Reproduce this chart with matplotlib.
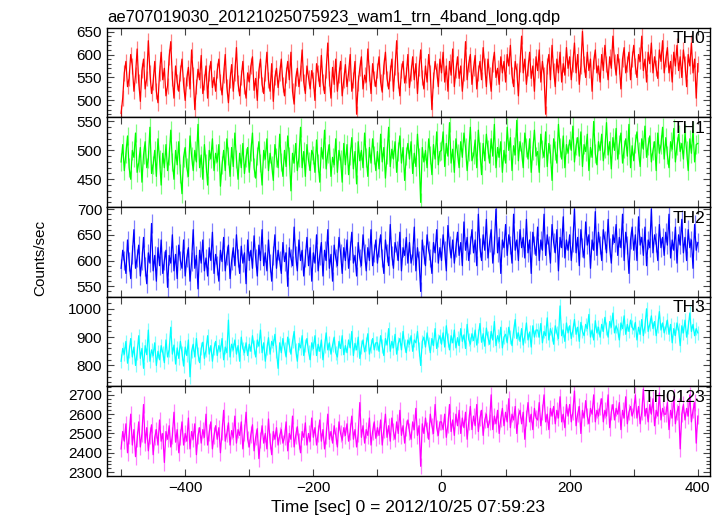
import numpy as np
import matplotlib
matplotlib.use('Agg')
import matplotlib.pyplot as plt
from matplotlib.ticker import MultipleLocator

plt.rcParams['font.family'] = ['Liberation Sans', 'DejaVu Sans']

# time grid, 2.5 s bins
time = np.arange(-500, 400.1, 2.5)

th0 = [472, 505, 560, 585, 530, 548, 600, 575, 520, 555, 612, 540, 498, 565, 590, 525, 548, 630, 560, 515,
       540, 585, 520, 495, 560, 605, 545, 570, 510, 532, 595, 628, 548, 505, 575, 540, 520, 560, 590, 535,
       500, 548, 572, 525, 610, 555, 480, 530, 568, 545, 598, 515, 540, 575, 505, 560, 585, 528, 550, 520,
       565, 590, 540, 512, 555, 600, 530, 495, 545, 578, 520, 560, 615, 538, 510, 550, 585, 530, 505, 560,
       540, 575, 595, 522, 548, 500, 565, 590, 535, 515, 560, 605, 545, 520, 580, 498, 550, 570, 528, 560,
       590, 535, 510, 555, 585, 545, 605, 520, 492, 548, 570, 530, 560, 610, 540, 515, 575, 550, 525, 565,
       545, 500, 580, 560, 530, 598, 540, 515, 565, 625, 548, 505, 572, 535, 590, 520, 555, 585, 510, 545,
       578, 530, 560, 600, 520, 545, 585, 470, 538, 570, 595, 525, 555, 540, 612, 560, 515, 580, 548, 530,
       565, 595, 540, 518, 575, 605, 548, 525, 560, 590, 520, 572, 630, 545, 510, 565, 585, 538, 555, 600,
       528, 560, 595, 545, 580, 515, 570, 610, 550, 525, 575, 540, 600, 560, 480, 545, 585, 565, 530, 590,
       560, 605, 540, 575, 520, 585, 555, 612, 530, 565, 595, 548, 575, 520, 560, 628, 545, 580, 600, 535,
       570, 598, 525, 560, 585, 545, 615, 575, 530, 590, 555, 520, 580, 605, 550, 570, 535, 595, 560, 585,
       540, 600, 575, 620, 555, 530, 585, 565, 510, 580, 640, 560, 590, 535, 570, 605, 548, 575, 520, 595,
       565, 610, 540, 585, 555, 470, 575, 600, 545, 620, 565, 530, 590, 560, 605, 540, 580, 555, 615, 570,
       595, 545, 580, 625, 560, 600, 535, 575, 650, 580, 550, 605, 565, 590, 520, 585, 610, 560, 575, 540,
       600, 565, 620, 580, 545, 595, 570, 640, 585, 555, 600, 575, 525, 590, 615, 560, 580, 605, 545, 590,
       620, 575, 550, 600, 585, 640, 565, 590, 540, 605, 580, 625, 560, 595, 570, 548, 610, 585, 630, 560,
       590, 615, 560, 585, 540, 605, 575, 620, 565, 595, 550, 610, 580, 530, 600, 575, 625, 560, 590, 505,
       580]

th1 = [480, 510, 465, 495, 525, 470, 450, 500, 488, 530, 462, 478, 505, 445, 492, 515, 470, 485, 540, 460,
       475, 500, 455, 520, 485, 440, 495, 470, 510, 465, 490, 535, 480, 450, 500, 475, 515, 460, 425, 488,
       505, 470, 455, 525, 490, 465, 500, 480, 545, 470, 492, 450, 510, 478, 440, 500, 485, 520, 465, 495,
       480, 510, 438, 475, 500, 465, 520, 490, 455, 505, 472, 530, 485, 450, 495, 470, 512, 460, 488, 505,
       462, 498, 530, 470, 452, 490, 515, 478, 440, 500, 485, 520, 465, 495, 475, 448, 510, 488, 470, 528,
       480, 455, 500, 472, 525, 490, 430, 495, 478, 512, 465, 488, 540, 470, 498, 455, 510, 482, 465, 500,
       492, 462, 518, 478, 445, 505, 485, 535, 468, 495, 510, 455, 488, 475, 520, 462, 500, 485, 445, 512,
       475, 510, 458, 490, 522, 468, 498, 442, 515, 482, 500, 470, 530, 488, 455, 505, 478, 520, 492, 465,
       498, 468, 528, 480, 505, 452, 492, 540, 472, 502, 485, 515, 462, 498, 525, 478, 505, 448, 490, 512,
       485, 515, 460, 495, 472, 528, 488, 410, 505, 480, 500, 470, 520, 492, 458, 510, 485, 532, 475, 498,
       500, 532, 472, 512, 490, 548, 478, 502, 462, 520, 495, 470, 515, 488, 530, 505, 465, 498, 540, 482,
       492, 518, 470, 535, 498, 458, 512, 482, 528, 502, 478, 520, 490, 545, 470, 505, 488, 515, 462, 500,
       478, 540, 500, 522, 465, 508, 492, 552, 482, 515, 498, 470, 530, 505, 485, 520, 462, 500, 535, 490,
       498, 462, 528, 502, 488, 532, 472, 512, 495, 448, 520, 500, 478, 545, 505, 485, 525, 470, 510, 495,
       518, 500, 542, 480, 508, 522, 490, 532, 472, 510, 498, 528, 465, 505, 488, 550, 495, 475, 515, 500,
       528, 482, 502, 548, 492, 515, 468, 522, 500, 538, 485, 510, 530, 478, 502, 520, 490, 545, 470, 508,
       482, 512, 532, 498, 472, 520, 502, 542, 488, 508, 525, 480, 500, 515, 465, 530, 495, 510, 540, 485,
       522, 492, 470, 515, 502, 538, 480, 508, 528, 498, 512, 485, 530, 500, 465, 520, 495, 535, 480, 510,
       512]

th2 = [585, 620, 600, 575, 640, 598, 565, 612, 660, 585, 605, 630, 570, 600, 645, 588, 555, 615, 595, 672,
       580, 610, 560, 625, 590, 640, 575, 600, 620, 548, 610, 595, 650, 580, 612, 565, 630, 600, 585, 640,
       570, 605, 625, 560, 598, 660, 585, 610, 545, 620, 595, 640, 580, 605, 570, 625, 600, 655, 575, 612,
       590, 560, 620, 598, 645, 580, 610, 630, 565, 600, 625, 590, 650, 605, 575, 628, 595, 615, 555, 640,
       600, 620, 585, 648, 605, 570, 630, 600, 660, 590, 615, 580, 640, 595, 560, 610, 650, 585, 620, 600,
       575, 635, 598, 615, 550, 625, 605, 590, 665, 610, 580, 640, 600, 620, 570, 605, 645, 590, 625, 560,
       615, 595, 650, 580, 610, 635, 570, 620, 600, 660, 585, 612, 560, 630, 605, 590, 645, 615, 575, 625,
       600, 640, 585, 620, 655, 595, 610, 570, 635, 605, 590, 650, 615, 580, 625, 600, 660, 590, 615, 640,
       595, 625, 650, 605, 575, 640, 615, 590, 670, 610, 585, 635, 620, 600, 655, 580, 625, 610, 645, 595,
       635, 595, 610, 665, 580, 625, 600, 540, 640, 612, 590, 650, 620, 605, 575, 635, 615, 660, 595, 625,
       600, 650, 620, 580, 668, 630, 605, 640, 595, 625, 655, 610, 635, 590, 675, 620, 645, 600, 630, 660,
       615, 640, 590, 690, 625, 600, 650, 620, 680, 605, 635, 660, 595, 630, 700, 615, 645, 575, 640, 625,
       670, 610, 650, 630, 595, 690, 620, 640, 600, 660, 625, 645, 605, 680, 615, 640, 575, 655, 630, 610,
       665, 600, 640, 620, 690, 610, 650, 630, 595, 670, 635, 615, 660, 580, 645, 625, 685, 605, 640, 620,
       650, 600, 635, 700, 615, 645, 590, 660, 625, 605, 675, 630, 650, 585, 640, 620, 695, 610, 655, 630,
       600, 660, 640, 615, 680, 625, 595, 650, 635, 670, 610, 645, 625, 690, 600, 655, 630, 575, 640, 665,
       620, 650, 600, 685, 630, 645, 610, 665, 590, 640, 625, 700, 615, 650, 635, 600, 670, 625, 645, 610,
       655, 630, 690, 605, 640, 620, 665, 595, 650, 630, 680, 615, 645, 600, 660, 625, 640, 585, 670, 620,
       635]

th3 = [815, 860, 840, 885, 808, 850, 895, 830, 865, 800, 845, 905, 825, 860, 790, 870, 838, 925, 815, 855,
       835, 880, 800, 850, 820, 870, 845, 810, 890, 830, 855, 935, 840, 872, 805, 862, 825, 885, 845, 798,
       865, 835, 890, 760, 850, 875, 830, 895, 840, 810, 860, 882, 825, 855, 905, 840, 870, 815, 860, 885,
       835, 870, 850, 895, 820, 865, 845, 960, 830, 875, 855, 890, 840, 870, 815, 900, 860, 845, 880, 835,
       875, 850, 905, 865, 830, 890, 868, 925, 845, 880, 815, 860, 898, 840, 885, 870, 910, 850, 790, 880,
       845, 895, 860, 830, 900, 872, 840, 885, 920, 855, 815, 878, 862, 905, 835, 870, 895, 848, 820, 880,
       860, 905, 835, 875, 850, 890, 820, 868, 915, 855, 880, 840, 872, 900, 845, 830, 885, 860, 905, 838,
       870, 845, 890, 862, 920, 835, 878, 855, 900, 825, 865, 890, 848, 875, 912, 840, 868, 895, 855, 880,
       880, 850, 905, 868, 835, 895, 872, 930, 850, 885, 862, 910, 840, 878, 895, 855, 920, 870, 845, 890,
       875, 905, 850, 890, 880, 920, 858, 800, 885, 900, 865, 915, 878, 845, 895, 870, 930, 860, 888, 905,
       875, 915, 865, 940, 890, 855, 905, 880, 925, 862, 898, 870, 930, 885, 908, 860, 945, 892, 875, 912,
       888, 925, 872, 905, 948, 882, 912, 868, 932, 898, 875, 920, 890, 955, 870, 905, 885, 935, 862, 900,
       910, 880, 935, 900, 870, 922, 962, 895, 915, 885, 930, 872, 905, 950, 890, 918, 865, 940, 900, 925,
       925, 900, 948, 880, 920, 905, 968, 890, 930, 910, 875, 940, 915, 895, 1010, 905, 925, 885, 950, 915,
       940, 895, 925, 962, 910, 935, 885, 952, 920, 905, 945, 930, 980, 900, 925, 890, 958, 915, 935, 900,
       945, 920, 970, 930, 900, 955, 935, 985, 915, 940, 925, 890, 950, 930, 975, 910, 945, 920, 960, 935,
       925, 952, 890, 935, 910, 962, 905, 940, 1000, 920, 945, 975, 930, 955, 905, 940, 990, 925, 950, 915,
       935, 960, 910, 945, 880, 930, 905, 950, 925, 870, 940, 915, 960, 900, 935, 985, 920, 945, 905, 930,
       915]

th0123 = [2420, 2510, 2460, 2550, 2400, 2490, 2600, 2440, 2520, 2380, 2470, 2560, 2430, 2500, 2650, 2450, 2530, 2410, 2490, 2545,
          2390, 2480, 2520, 2440, 2570, 2460, 2500, 2350, 2510, 2470, 2540, 2430, 2490, 2610, 2455, 2520, 2400, 2480, 2560, 2440,
          2500, 2460, 2580, 2420, 2510, 2470, 2550, 2390, 2490, 2530, 2450, 2520, 2480, 2600, 2440, 2505, 2560, 2420, 2490, 2540,
          2470, 2530, 2400, 2510, 2620, 2460, 2500, 2555, 2440, 2515, 2480, 2590, 2450, 2520, 2490, 2560, 2420, 2505, 2610, 2470,
          2430, 2495, 2545, 2410, 2480, 2525, 2370, 2465, 2540, 2450, 2500, 2420, 2575, 2460, 2390, 2510, 2470, 2530, 2440, 2490,
          2520, 2450, 2480, 2560, 2410, 2500, 2470, 2590, 2430, 2490, 2535, 2460, 2400, 2510, 2480, 2555, 2440, 2500, 2460, 2580,
          2480, 2530, 2440, 2500, 2570, 2460, 2520, 2420, 2490, 2600, 2470, 2510, 2450, 2540, 2490, 2430, 2560, 2500, 2465, 2530,
          2490, 2550, 2460, 2510, 2590, 2470, 2520, 2430, 2500, 2660, 2480, 2540, 2450, 2520, 2490, 2580, 2440, 2510, 2560, 2475,
          2530, 2490, 2570, 2440, 2520, 2600, 2480, 2540, 2460, 2580, 2510, 2470, 2560, 2500, 2620, 2490, 2540, 2450, 2530, 2570,
          2510, 2470, 2560, 2520, 2630, 2490, 2540, 2330, 2550, 2500, 2580, 2520, 2470, 2600, 2540, 2500, 2650, 2530, 2490, 2560,
          2560, 2520, 2600, 2480, 2545, 2650, 2510, 2570, 2490, 2600, 2540, 2620, 2500, 2580, 2530, 2610, 2470, 2560, 2640, 2520,
          2590, 2540, 2650, 2510, 2580, 2620, 2490, 2570, 2600, 2530, 2560, 2700, 2520, 2590, 2550, 2620, 2500, 2575, 2630, 2540,
          2610, 2560, 2680, 2530, 2600, 2570, 2640, 2500, 2590, 2620, 2550, 2610, 2470, 2580, 2660, 2560, 2600, 2520, 2630, 2580,
          2570, 2660, 2540, 2610, 2700, 2560, 2600, 2520, 2630, 2590, 2640, 2550, 2620, 2580, 2690, 2560, 2600, 2530, 2650, 2590,
          2650, 2560, 2610, 2720, 2540, 2600, 2640, 2500, 2620, 2580, 2670, 2590, 2550, 2630, 2600, 2700, 2560, 2620, 2590, 2640,
          2680, 2560, 2620, 2590, 2700, 2530, 2610, 2650, 2570, 2630, 2600, 2660, 2520, 2620, 2580, 2690, 2550, 2610, 2640, 2590,
          2620, 2700, 2580, 2640, 2550, 2610, 2730, 2590, 2630, 2560, 2650, 2600, 2680, 2540, 2620, 2590, 2710, 2570, 2630, 2600,
          2600, 2660, 2520, 2620, 2580, 2690, 2550, 2610, 2640, 2420, 2600, 2650, 2570, 2630, 2590, 2700, 2560, 2620, 2660, 2450,
          2590]

series = [th0, th1, th2, th3, th0123]
names = ['TH0', 'TH1', 'TH2', 'TH3', 'TH0123']
errs = [17, 16, 18, 24, 42]  # typical 1-sigma error per bin

colors = ['#ff0000', '#00ff00', '#0000ff', '#00ffff', '#ff00ff']
ylims = [(463, 658), (402, 557), (530, 704), (727, 1043), (2281, 2745)]
majors = [50, 50, 50, 100, 100]
minors = [10, 10, 10, 20, 20]

fig, axes = plt.subplots(5, 1, sharex=True, figsize=(7.23, 5.16), dpi=100)
plt.subplots_adjust(left=0.148, right=0.982, top=0.946, bottom=0.078, hspace=0)

for i, ax in enumerate(axes):
    y = np.array(series[i])
    ax.errorbar(time, y, yerr=errs[i], fmt='none', ecolor=colors[i],
                alpha=0.5, elinewidth=0.9)
    ax.plot(time, y, color=colors[i], lw=0.9)
    ax.set_ylim(*ylims[i])
    ax.set_xlim(-522, 419)
    ax.yaxis.set_major_locator(MultipleLocator(majors[i]))
    ax.yaxis.set_minor_locator(MultipleLocator(minors[i]))
    ax.xaxis.set_major_locator(MultipleLocator(100))
    ax.tick_params(which='both', direction='in', top=True, right=True,
                   labelsize=11, width=0.8, color='#444444')
    ax.tick_params(which='major', length=5)
    ax.tick_params(which='minor', length=3)
    for sp in ax.spines.values():
        sp.set_linewidth(1.0)
    ax.text(0.993, 0.96, names[i], transform=ax.transAxes, ha='right',
            va='top', fontsize=12.5)

# only label every 200 s on the bottom axis
axes[-1].set_xticks([-500, -400, -300, -200, -100, 0, 100, 200, 300, 400])
axes[-1].set_xticklabels(['', '\u2212400', '', '\u2212200', '', '0', '', '200', '', '400'])
axes[-1].set_xlabel('Time [sec] 0 = 2012/10/25 07:59:23', fontsize=12.5, labelpad=4)

axes[0].set_title('ae707019030_20121025075923_wam1_trn_4band_long.qdp',
                  loc='left', fontsize=12, pad=4)
fig.text(0.055, 0.5, 'Counts/sec', rotation=90, ha='center', va='center', fontsize=11)

fig.savefig('out.png', dpi=100)
